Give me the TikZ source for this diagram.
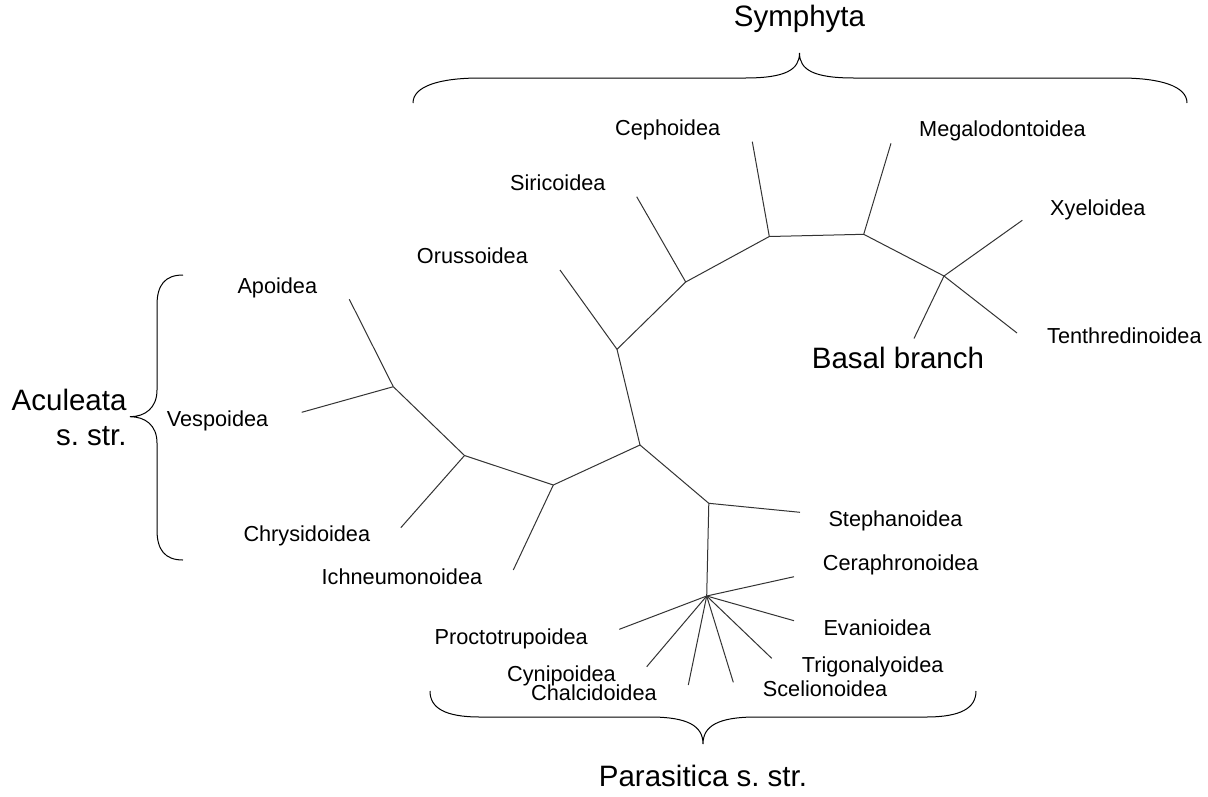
\documentclass[tikz,border=0pt]{standalone}
\usepackage{fontspec}
\setmainfont{Liberation Sans}
\frenchspacing
\begin{document}
\begin{tikzpicture}[x=1pt,y=-1pt,
  branch/.style={line width=1pt,draw=black!80},
  bracepath/.style={line width=1pt,draw=black},
  lab/.style={inner sep=0pt,anchor=west,text height=0.716em,text depth=0pt,font=\fontsize{21.7}{26}\selectfont},
  big/.style={inner sep=0pt,text height=0.716em,text depth=0pt,font=\fontsize{29.5}{34}\selectfont\frenchspacing}]
\useasboundingbox[fill=white] (0,0) rectangle (1208,796);

% tree coordinates
\coordinate (n1) at (769.3,236.5);
\coordinate (n2) at (863.7,234.3);
\coordinate (n3) at (944,276);
\coordinate (n4) at (685.7,282);
\coordinate (n5) at (617,349.3);
\coordinate (n6) at (640,445);
\coordinate (n7) at (553.3,485);
\coordinate (n8) at (464.5,455.5);
\coordinate (n9) at (393.3,386.7);
\coordinate (n10) at (708.8,503.3);
\coordinate (n11) at (706.7,596);

\coordinate (lceph) at (752.3,141.7);
\coordinate (lmega) at (891,143.3);
\coordinate (lxyel) at (1022.3,220.3);
\coordinate (ltent) at (1017,333);
\coordinate (lbas) at (914,338.5);
\coordinate (lsiri) at (636.7,196.7);
\coordinate (loru) at (560,270);
\coordinate (lichn) at (513.3,570);
\coordinate (lchry) at (400.8,527.7);
\coordinate (lvesp) at (301.7,412.3);
\coordinate (lapo) at (349.3,299.3);
\coordinate (lstep) at (800,512.3);
\coordinate (lcera) at (794,576.7);
\coordinate (levan) at (794,620.7);
\coordinate (ltrig) at (771.7,658.3);
\coordinate (lscel) at (733.3,682.3);
\coordinate (lchal) at (688.3,685);
\coordinate (lcyni) at (646.7,666.7);
\coordinate (lproc) at (619.3,629.3);

% backbone
\draw[branch] (n3) -- (n2) -- (n1) -- (n4) -- (n5) -- (n6) -- (n7) -- (n8) -- (n9);
\draw[branch] (n6) -- (n10) -- (n11);
% leaves
\draw[branch] (n1) -- (lceph);
\draw[branch] (n2) -- (lmega);
\draw[branch] (n3) -- (lxyel);
\draw[branch] (n3) -- (ltent);
\draw[branch] (n3) -- (lbas);
\draw[branch] (n4) -- (lsiri);
\draw[branch] (n5) -- (loru);
\draw[branch] (n7) -- (lichn);
\draw[branch] (n8) -- (lchry);
\draw[branch] (n9) -- (lvesp);
\draw[branch] (n9) -- (lapo);
\draw[branch] (n10) -- (lstep);
\foreach \l in {lcera,levan,ltrig,lscel,lchal,lcyni,lproc}
  \draw[branch] (n11) -- (\l);

% labels
\node[lab] (tceph) at (615,131.7) {Cephoidea};
\node[lab] (tmega) at (919,133.3) {Megalodontoidea};
\node[lab] (tsiri) at (510,187.3) {Siricoidea};
\node[lab] (txyel) at (1050,211.7) {Xyeloidea};
\node[lab] (toru) at (416.7,260) {Orussoidea};
\node[lab] (tapo) at (237.3,290) {Apoidea};
\node[lab] (ttent) at (1047,340) {Tenthredinoidea};
\node[lab] (tvesp) at (166.7,423.3) {Vespoidea};
\node[lab] (tstep) at (828.3,523.3) {Stephanoidea};
\node[lab] (tchry) at (243.3,538.3) {Chrysidoidea};
\node[lab] (tcera) at (822.7,567.3) {Ceraphronoidea};
\node[lab] (tichn) at (321.5,581) {Ichneumonoidea};
\node[lab] (tevan) at (823.3,631.7) {Evanioidea};
\node[lab] (tproc) at (434.4,641) {Proctotrupoidea};
\node[lab] (ttrig) at (801.7,669.3) {Trigonalyoidea};
\node[lab] (tcyni) at (507,678) {Cynipoidea};
\node[lab] (tscel) at (762.7,693.3) {Scelionoidea};
\node[lab] (tchal) at (531,696.7) {Chalcidoidea};

\node[big] (tsym) at (799.5,23) {Symphyta};
\node[big,anchor=west] (tbas) at (811.7,365) {Basal branch};
\node[big,anchor=east] (tacu1) at (126.7,406.7) {Aculeata};
\node[big,anchor=east] (tacu2) at (126.7,441.7) {s. str.};
\node[big] (tpar) at (703,783) {Parasitica s. str.};

% braces
\draw[bracepath] (413,103) .. controls (413,86) and (440,78) .. (480,78) -- (745,78)
  .. controls (785,78) and (799.5,70) .. (799.5,53)
  .. controls (799.5,70) and (814,78) .. (854,78) -- (1120,78)
  .. controls (1160,78) and (1187,86) .. (1187,103);
\draw[bracepath] (430,691) .. controls (430,708) and (445,717) .. (480,717) -- (650,717)
  .. controls (688,717) and (703,726) .. (703,744)
  .. controls (703,726) and (718,717) .. (756,717) -- (926,717)
  .. controls (961,717) and (976,708) .. (976,691);
\draw[bracepath] (183,275) .. controls (165,275) and (157,285) .. (157,305) -- (157,390)
  .. controls (157,408) and (145,416.7) .. (130,416.7)
  .. controls (145,416.7) and (157,425) .. (157,443) -- (157,530)
  .. controls (157,550) and (165,560) .. (183,560);
\end{tikzpicture}
\end{document}
